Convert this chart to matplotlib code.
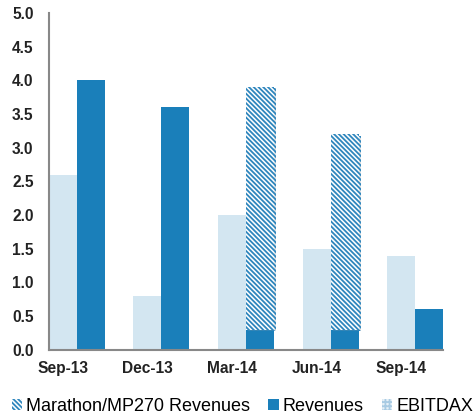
import numpy as np
import matplotlib.pyplot as plt
import matplotlib.patheffects as pe
from matplotlib.patches import Patch

# quarters and values (millions)
quarters = ['Sep-13', 'Dec-13', 'Mar-14', 'Jun-14', 'Sep-14']
ebitdax = [2.6, 0.8, 2.0, 1.5, 1.4]
revenues = [4.0, 3.6, 0.3, 0.3, 0.6]
marathon = [0.0, 0.0, 3.6, 2.9, 0.0]
y_ticks = [0.0, 0.5, 1.0, 1.5, 2.0, 2.5, 3.0, 3.5, 4.0, 4.5, 5.0]

plt.rcParams['font.family'] = ['Liberation Sans', 'DejaVu Sans']
plt.rcParams['hatch.linewidth'] = 1.3

light = '#d3e6f1'
dark = '#1a7fba'
stripe = '#2f86bd'
stripes = '\\' * 7

fig = plt.figure(figsize=(4.75, 4.17), dpi=100)
ax = fig.add_axes([0.103, 0.161, 0.83, 0.808])

x = np.arange(len(quarters))
w = 0.331

ax.bar(x - w / 2, ebitdax, w, color=light, linewidth=0)
ax.bar(x + w / 2, revenues, w, color=dark, linewidth=0)

# Marathon/MP270 stacked on top of revenues, only where present
m = np.array(marathon) > 0
hb = ax.bar(x[m] + w / 2, np.array(marathon)[m], w, bottom=np.array(revenues)[m],
            facecolor='white', edgecolor=stripe, hatch=stripes, linewidth=0)
for p in hb:
    p.set_path_effects([pe.SimplePatchShadow(offset=(1.5, -1), shadow_rgbFace='#999999', alpha=0.25),
                        pe.Normal()])

ax.set_xlim(-w, len(quarters) - 1 + w)
ax.set_ylim(0, 5.0)
ax.set_yticks(y_ticks)
ax.set_yticklabels(['%.1f' % v for v in y_ticks], fontweight='bold', fontsize=11.2, color='#222222')
# labels sit under the EBITDAX bar of each quarter
ax.set_xticks(x - w / 2)
ax.set_xticklabels(quarters, fontweight='bold', fontsize=11.2, color='#222222')
ax.tick_params(axis='y', length=0, pad=11)
ax.tick_params(axis='x', length=0, pad=8)

for s in ['top', 'right']:
    ax.spines[s].set_visible(False)
for s in ['left', 'bottom']:
    ax.spines[s].set_color('#888888')
    ax.spines[s].set_linewidth(1.5)
    ax.spines[s].set_zorder(3)

handles = [
    Patch(facecolor='white', edgecolor=stripe, hatch=stripes, linewidth=0, label='Marathon/MP270 Revenues'),
    Patch(facecolor=dark, linewidth=0, label='Revenues'),
    Patch(facecolor='#e6f0f7', edgecolor='#a9cbe3', hatch='++++', linewidth=0, label='EBITDAX'),
]
fig.legend(handles=handles, loc='center', bbox_to_anchor=(0.51, 0.026), ncol=3,
           frameon=False, fontsize=13, handlelength=0.6, handleheight=0.6,
           handletextpad=0.2, columnspacing=1.0, borderpad=0, borderaxespad=0)

fig.savefig('out.png', dpi=100)
